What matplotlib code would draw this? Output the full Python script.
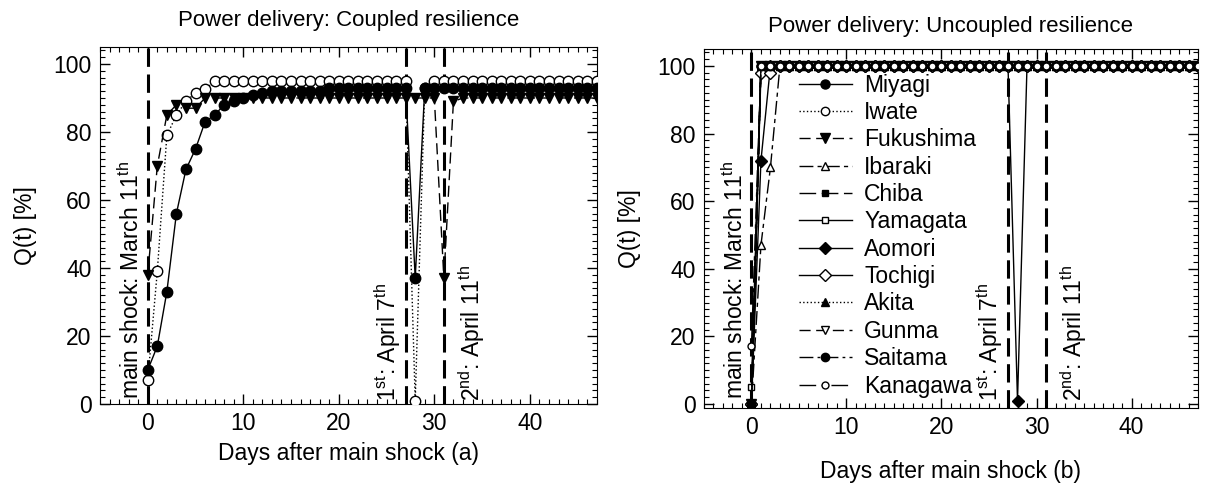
import matplotlib
matplotlib.use("Agg")
import matplotlib.pyplot as plt
from matplotlib.ticker import MultipleLocator

plt.rcParams['font.family'] = ['Liberation Sans', 'DejaVu Sans']
plt.rcParams['font.size'] = 16.5
plt.rcParams['mathtext.default'] = 'regular'

# days after the main shock
days = list(range(0, 48))

# coupled resilience (a)
miyagi_c = [10, 17, 33, 56, 69, 75, 83, 85, 88, 89,
            90, 91, 91.5, 92, 92, 92, 92, 92, 92, 93,
            93, 93, 93, 93, 93, 93, 93, 93, 37, 93,
            93, 93, 93, 93, 93, 93, 93, 93, 93, 93,
            93, 93, 93, 93, 93, 93, 93, 93]
iwate_c = [7, 39, 79, 85, 89, 91.5, 92.5, 95, 95, 95,
           95, 95, 95, 95, 95, 95, 95, 95, 95, 95,
           95, 95, 95, 95, 95, 95, 95, 95, 1, 93,
           95, 95, 95, 95, 95, 95, 95, 95, 95, 95,
           95, 95, 95, 95, 95, 95, 95, 95]
fukushima_c = [38, 70, 85, 88, 87, 87, 90, 90, 90, 90,
               90, 90, 90, 90, 90, 90, 90, 90, 90, 90,
               90, 90, 90, 90, 90, 90, 90, 90, 90, 90,
               90, 37, 89, 90, 90, 90, 90, 90, 90, 90,
               90, 90, 90, 90, 90, 90, 90, 90]

# uncoupled resilience (b)
full = [100, 100, 100, 100, 100, 100, 100, 100, 100, 100,
        100, 100, 100, 100, 100, 100, 100, 100, 100, 100,
        100, 100, 100, 100, 100, 100, 100, 100, 100, 100,
        100, 100, 100, 100, 100, 100, 100, 100, 100, 100,
        100, 100, 100, 100, 100, 100]
miyagi_u = [0, 100] + full
iwate_u = [0, 100] + full
fukushima_u = [0, 100] + full
ibaraki_u = [0, 47] + [70] + full[:45]
chiba_u = [0, 100] + full
yamagata_u = [5, 100] + full
aomori_u = [0, 72, 100, 100, 100, 100, 100, 100, 100, 100,
            100, 100, 100, 100, 100, 100, 100, 100, 100, 100,
            100, 100, 100, 100, 100, 100, 100, 100, 1, 100,
            100, 100, 100, 100, 100, 100, 100, 100, 100, 100,
            100, 100, 100, 100, 100, 100, 100, 100]
tochigi_u = [0, 98, 98] + full[:45]
akita_u = [0, 100] + full
gunma_u = [0, 100] + full
saitama_u = [0, 100] + full
kanagawa_u = [17, 100] + full

# vertical event lines
shock_days = [0, 27, 31]

fig = plt.figure(figsize=(12.06, 4.87), dpi=100)
ax1 = fig.add_axes([0.0829, 0.1704, 0.4119, 0.7331])
ax2 = fig.add_axes([0.5837, 0.1622, 0.4097, 0.7372])


def style_axes(ax, ylow):
    ax.set_xlim(-5, 47)
    ax.set_ylim(ylow, 105)
    ax.xaxis.set_major_locator(MultipleLocator(10))
    ax.xaxis.set_minor_locator(MultipleLocator(1))
    ax.yaxis.set_major_locator(MultipleLocator(20))
    ax.yaxis.set_minor_locator(MultipleLocator(2))
    ax.tick_params(which='both', direction='in', top=True, right=True)
    ax.tick_params(which='major', length=7, width=1, pad=6)
    ax.tick_params(which='minor', length=3.5, width=0.8)
    ax.set_ylabel('Q(t) [%]', labelpad=12)
    for d in shock_days:
        ax.axvline(d, color='black', lw=2.2, dashes=(6, 2.5), zorder=1)
    ax.text(-0.4, 1.5, 'main shock: March 11$^{th}$', rotation=90,
            ha='right', va='bottom')
    ax.text(26.7, 1.0, '1$^{st}$: April 7$^{th}$', rotation=90,
            ha='right', va='bottom')
    ax.text(32.3, 1.0, '2$^{nd}$: April 11$^{th}$', rotation=90,
            ha='left', va='bottom')


style_axes(ax1, 0)
ax1.plot(days, iwate_c, ':', color='black', lw=1, marker='o', ms=7.5,
         mfc='white', mec='black', zorder=3)
ax1.plot(days, miyagi_c, '-', color='black', lw=1, marker='o', ms=7.5,
         zorder=4)
ax1.plot(days, fukushima_c, color='black', lw=1, dashes=(8, 4), marker='v',
         ms=7.5, zorder=5)
ax1.set_title('Power delivery: Coupled resilience', fontsize=16, pad=15)
ax1.set_xlabel('Days after main shock (a)', labelpad=5)

style_axes(ax2, -1.2)
series = [
    ('Miyagi', miyagi_u, '-', 'o', 'black', 6.5),
    ('Iwate', iwate_u, ':', 'o', 'white', 6),
    ('Fukushima', fukushima_u, (0, (8, 4)), 'v', 'black', 6.5),
    ('Ibaraki', ibaraki_u, (0, (10, 3, 3, 3)), '^', 'white', 6),
    ('Chiba', chiba_u, (0, (12, 4)), 's', 'black', 5),
    ('Yamagata', yamagata_u, '-', 's', 'white', 4.5),
    ('Aomori', aomori_u, '-', 'D', 'black', 6),
    ('Tochigi', tochigi_u, '-', 'D', 'white', 6),
    ('Akita', akita_u, ':', '^', 'black', 6),
    ('Gunma', gunma_u, (0, (8, 4)), 'v', 'white', 6),
    ('Saitama', saitama_u, (0, (10, 3, 2, 3)), 'o', 'black', 6),
    ('Kanagawa', kanagawa_u, (0, (12, 4, 3, 4)), 'o', 'white', 5),
]
for name, vals, ls, mk, fc, ms in series:
    ax2.plot(days, vals, linestyle=ls, color='black', lw=1, marker=mk,
             ms=ms, mfc=fc, mec='black', label=name, zorder=3)
ax2.set_title('Power delivery: Uncoupled resilience', fontsize=16, pad=12)
ax2.set_xlabel('Days after main shock (b)', labelpad=15)
ax2.legend(loc='upper left', bbox_to_anchor=(0.16, 0.976), frameon=False,
           fontsize=16.5, handlelength=2.3, handletextpad=0.55,
           labelspacing=0.19, borderpad=0.2)

fig.savefig('out.png', dpi=100)
